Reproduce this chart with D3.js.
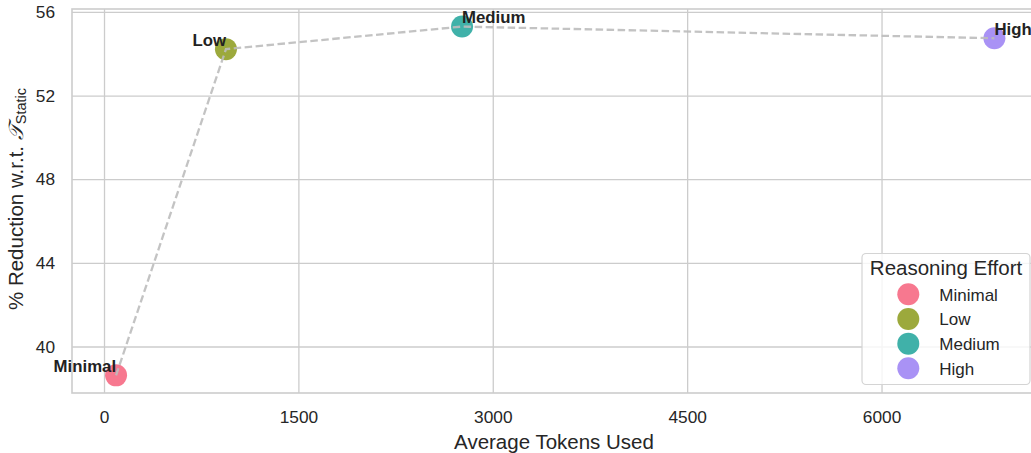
<!DOCTYPE html>
<html>
<head>
<meta charset="utf-8">
<script src="https://cdn.jsdelivr.net/npm/d3@7"></script>
<style>
  body { margin: 0; background: #fff; }
  svg { display: block; font-family: "Liberation Sans", Arial, sans-serif; }
</style>
</head>
<body>
<div id="chart_div"></div>
<script>
// data
const efforts = ["Minimal", "Low", "Medium", "High"]
const avgTokens = [93, 941, 2763, 6871]
const reduction = [38.62, 54.22, 55.30, 54.74]
const effortColors = ["#f77189", "#97a431", "#36ada4", "#a48cf4"]
const labelAnchor = ["end", "end", "start", "start"]
const xTicks = [0, 1500, 3000, 4500, 6000]
const yTicks = [40, 44, 48, 52, 56]

const gridColor = "#cccccc"
const textColor = "#262626"

// dimensions (the right side of the axes runs a little past the window)
const fig_width = 1031, fig_height = 453
const margin = { top: 9, left: 72 },
  plot_width = 1036 - margin.left,
  plot_height = 393 - margin.top

const svg = d3.select("#chart_div")
  .append("svg")
  .attr("width", fig_width)
  .attr("height", fig_height)

const g = svg.append("g")
  .attr("transform", `translate(${margin.left},${margin.top})`)

const x = d3.scaleLinear()
  .domain([-247, 7192])
  .range([0, plot_width])

const y = d3.scaleLinear()
  .domain([37.776, 56.14])
  .range([plot_height, 0])

// grid lines
g.append("g")
  .call(d3.axisBottom(x).tickValues(xTicks).tickSize(plot_height).tickFormat(""))
  .call(a => a.select(".domain").remove())
  .selectAll("line")
  .attr("stroke", gridColor)
  .attr("stroke-width", 1.3)

g.append("g")
  .call(d3.axisLeft(y).tickValues(yTicks).tickSize(-plot_width).tickFormat(""))
  .call(a => a.select(".domain").remove())
  .selectAll("line")
  .attr("stroke", gridColor)
  .attr("stroke-width", 1.3)

// spines
g.append("rect")
  .attr("x", 0)
  .attr("y", 0)
  .attr("width", plot_width)
  .attr("height", plot_height)
  .attr("fill", "none")
  .attr("stroke", gridColor)
  .attr("stroke-width", 1.6)

// X axis tick labels
g.append("g")
  .attr("transform", `translate(0, ${plot_height})`)
  .call(d3.axisBottom(x).tickValues(xTicks).tickSize(0).tickPadding(18).tickFormat(d3.format("d")))
  .call(a => a.select(".domain").remove())
  .selectAll("text")
  .attr("font-size", 17.3)
  .attr("font-family", null)
  .attr("fill", textColor)

// Y axis tick labels
g.append("g")
  .call(d3.axisLeft(y).tickValues(yTicks).tickSize(0).tickPadding(17))
  .call(a => a.select(".domain").remove())
  .selectAll("text")
  .attr("font-size", 17.3)
  .attr("font-family", null)
  .attr("fill", textColor)

// axis labels
svg.append("text")
  .attr("x", margin.left + plot_width / 2)
  .attr("y", 449)
  .attr("text-anchor", "middle")
  .attr("font-size", 20.5)
  .attr("fill", textColor)
  .text("Average Tokens Used")

const yLabel = svg.append("text")
  .attr("transform", "translate(23, 199) rotate(-90)")
  .attr("text-anchor", "middle")
  .attr("font-size", 20.5)
  .attr("fill", textColor)
yLabel.append("tspan").text("% Reduction w.r.t. ")
yLabel.append("tspan").attr("font-style", "italic").text("\u{1D4AF}")
yLabel.append("tspan").attr("font-size", 14.5).attr("dy", 3).text("Static")

const points = efforts.map((e, i) => ({ name: e, x: avgTokens[i], y: reduction[i], color: effortColors[i], anchor: labelAnchor[i] }))

// points
g.selectAll("circle.pt")
  .data(points)
  .join("circle")
  .attr("class", "pt")
  .attr("cx", d => x(d.x))
  .attr("cy", d => y(d.y))
  .attr("r", 11)
  .attr("fill", d => d.color)
  .style("opacity", 0.95)

// dashed connecting line
g.append("path")
  .datum(points)
  .attr("fill", "none")
  .attr("stroke", "#bdbdbd")
  .attr("stroke-opacity", 0.9)
  .attr("stroke-width", 2.3)
  .attr("stroke-dasharray", "7.5,3.5")
  .attr("d", d3.line()
    .x(function(d) { return x(d.x) })
    .y(function(d) { return y(d.y) })
  )

// point labels
g.selectAll("text.lbl")
  .data(points)
  .join("text")
  .attr("class", "lbl")
  .attr("x", d => x(d.x))
  .attr("y", d => y(d.y) - 3.5)
  .attr("text-anchor", d => d.anchor)
  .attr("font-size", 16.8)
  .attr("font-weight", "bold")
  .attr("fill", "#222")
  .text(d => d.name)

// legend
const legend = svg.append("g")
legend.append("rect")
  .attr("x", 862)
  .attr("y", 253.5)
  .attr("width", 168)
  .attr("height", 131)
  .attr("rx", 4)
  .attr("fill", "#fff")
  .attr("fill-opacity", 0.8)
  .attr("stroke", "#d4d4d4")
  .attr("stroke-width", 1.2)

legend.append("text")
  .attr("x", 946)
  .attr("y", 274.5)
  .attr("text-anchor", "middle")
  .attr("font-size", 20.5)
  .attr("fill", textColor)
  .text("Reasoning Effort")

const item = legend.selectAll("g.item")
  .data(points)
  .join("g")
  .attr("class", "item")
  .attr("transform", (d, i) => `translate(908.3, ${294.3 + i * 24.67})`)

item.append("circle")
  .attr("r", 11)
  .attr("fill", d => d.color)
  .style("opacity", 0.95)

item.append("text")
  .attr("x", 31)
  .attr("y", 6.3)
  .attr("font-size", 17)
  .attr("fill", textColor)
  .text(d => d.name)
</script>
</body>
</html>
